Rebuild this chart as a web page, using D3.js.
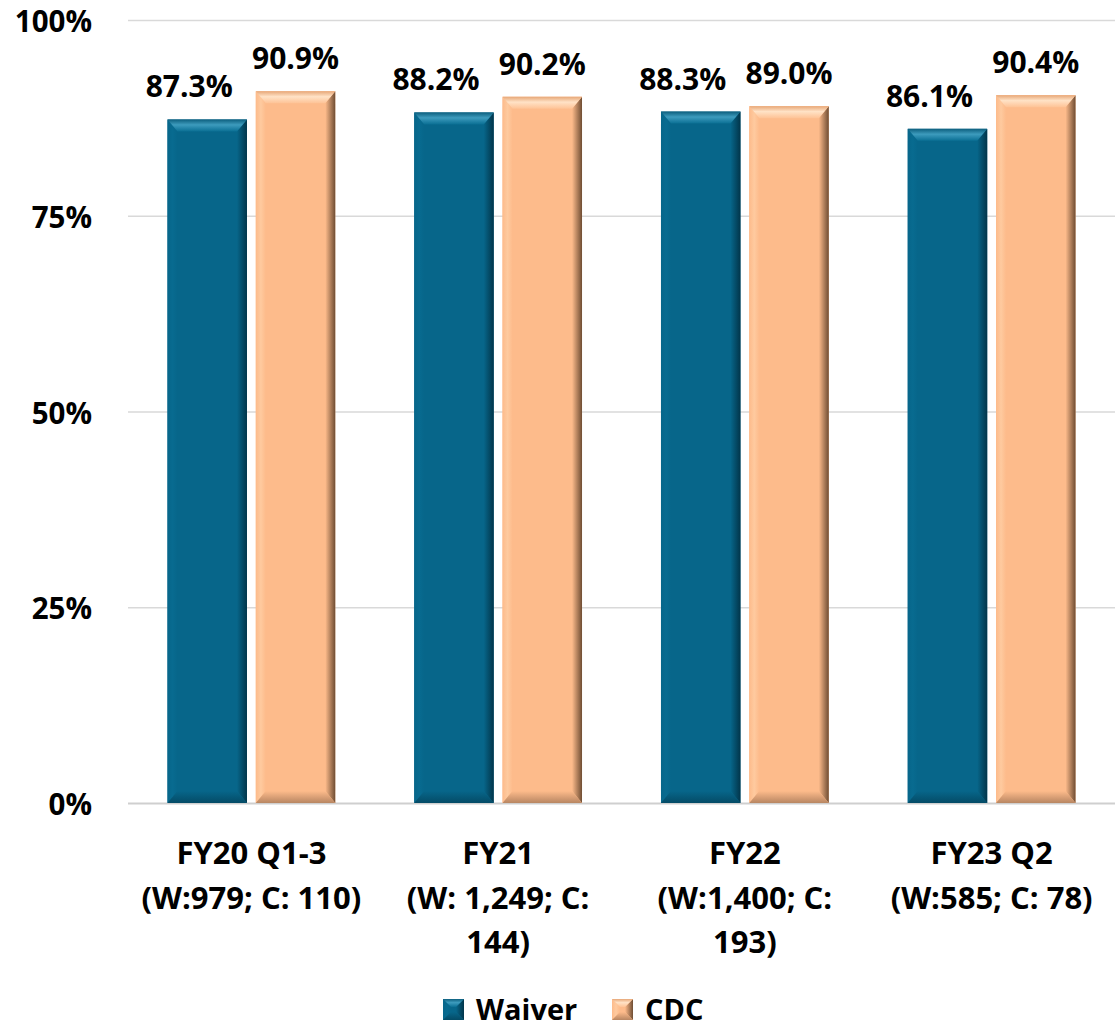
<!DOCTYPE html>
<html><head><meta charset="utf-8">
<script src="https://cdn.jsdelivr.net/npm/d3@7"></script>
<style>body{margin:0;background:#fff}svg{display:block}text{font-family:"Open Sans",Lato,sans-serif;font-weight:bold;fill:#000}</style>
</head><body>
<svg id="c" width="1115" height="1027"></svg>
<script>
const categories = [["FY20 Q1-3","(W:979; C: 110)"],["FY21","(W: 1,249; C:","144)"],["FY22","(W:1,400; C:","193)"],["FY23 Q2","(W:585; C: 78)"]];
const seriesNames = ["Waiver","CDC"];
const waiver = [87.3, 88.2, 88.3, 86.1];
const cdc = [90.9, 90.2, 89.0, 90.4];
const yTicks = [0,25,50,75,100];
const colors = {
  Waiver:{key:"w",base:"#07668a",top1:"#0d5f7e",top2:"#3d9bbd",top3:"#0a6f94",side:"#02354a",bot:"#044b66",left:"#086b90"},
  CDC:{key:"c",base:"#fdbb8b",top1:"#e7a777",top2:"#ffe2c6",top3:"#fec396",side:"#6f4d33",bot:"#b88662",left:"#feca9f"}
};

const svg = d3.select("#c");
const defs = svg.append("defs");
Object.values(colors).forEach(c=>{
  const gt = defs.append("linearGradient").attr("id","t"+c.key).attr("x1",0).attr("y1",0).attr("x2",0).attr("y2",1);
  gt.append("stop").attr("offset",0).attr("stop-color",c.top1);
  gt.append("stop").attr("offset",0.45).attr("stop-color",c.top2);
  gt.append("stop").attr("offset",1).attr("stop-color",c.top3);
  const gr = defs.append("linearGradient").attr("id","r"+c.key).attr("x1",0).attr("y1",0).attr("x2",1).attr("y2",0);
  gr.append("stop").attr("offset",0).attr("stop-color",c.base);
  gr.append("stop").attr("offset",1).attr("stop-color",c.side);
  const gb = defs.append("linearGradient").attr("id","b"+c.key).attr("x1",0).attr("y1",0).attr("x2",0).attr("y2",1);
  gb.append("stop").attr("offset",0).attr("stop-color",c.base);
  gb.append("stop").attr("offset",1).attr("stop-color",c.bot);
  const gl = defs.append("linearGradient").attr("id","l"+c.key).attr("x1",0).attr("y1",0).attr("x2",1).attr("y2",0);
  gl.append("stop").attr("offset",0).attr("stop-color",c.base);
  gl.append("stop").attr("offset",0.5).attr("stop-color",c.left);
  gl.append("stop").attr("offset",1).attr("stop-color",c.base);
});

const x0 = d3.scaleBand().domain(d3.range(4)).range([128,1115]).paddingInner(0.32).paddingOuter(0.16);
const x1 = d3.scaleBand().domain(seriesNames).range([0,x0.bandwidth()]).paddingInner(0.1);
const y = d3.scaleLinear().domain([0,100]).range([803,20]);

// grid
svg.append("g").selectAll("line").data(yTicks).join("line")
  .attr("x1",128).attr("x2",1115).attr("y1",d=>y(d)+0.5).attr("y2",d=>y(d)+0.5)
  .attr("stroke",d=>d===0?"#cfcfcf":"#d9d9d9").attr("stroke-width",d=>d===0?2:1.5);
svg.append("g").selectAll("text").data(yTicks).join("text")
  .attr("x",92).attr("y",d=>y(d)+12).attr("text-anchor","end").attr("font-size",29.5).text(d=>d+"%");

function bevelBar(g, bx, by, bw, bh, c, bt, bs) {
  bt = Math.min(bt, bh/2); bs = Math.min(bs, bw/2);
  const P = pts => pts.map(p=>p.join(",")).join(" ");
  g.append("rect").attr("x",bx).attr("y",by).attr("width",bw).attr("height",bh).attr("fill",c.base);
  g.append("polygon").attr("points",P([[bx,by],[bx+bs,by+bt],[bx+bs,by+bh-bt],[bx,by+bh]])).attr("fill",`url(#l${c.key})`);
  g.append("polygon").attr("points",P([[bx+bw,by],[bx+bw,by+bh],[bx+bw-bs,by+bh-bt],[bx+bw-bs,by+bt]])).attr("fill",`url(#r${c.key})`);
  g.append("polygon").attr("points",P([[bx,by+bh],[bx+bw,by+bh],[bx+bw-bs,by+bh-bt],[bx+bs,by+bh-bt]])).attr("fill",`url(#b${c.key})`);
  g.append("polygon").attr("points",P([[bx,by],[bx+bw,by],[bx+bw-bs,by+bt],[bx+bs,by+bt]])).attr("fill",`url(#t${c.key})`);
}

const data = [waiver, cdc];
const labelShift = [-18, 0];
const bars = svg.append("g");
d3.range(4).forEach(i=>{
  seriesNames.forEach((s,si)=>{
    const v = data[si][i];
    const bx = x0(i)+x1(s), bw = x1.bandwidth();
    bevelBar(bars.append("g"), bx, y(v), bw, y(0)-y(v), colors[s], 12, 10);
    bars.append("text").attr("x",bx+bw/2+labelShift[si]).attr("y",y(v)-22).attr("text-anchor","middle").attr("font-size",30).text(v.toFixed(1)+"%");
  });
});

// category labels
const cl = svg.append("g");
categories.forEach((lines,i)=>{
  const cx = x0(i)+x0.bandwidth()/2;
  const t = cl.append("text").attr("x",cx).attr("y",864).attr("text-anchor","middle").attr("font-size",31);
  lines.forEach((l,j)=>t.append("tspan").attr("x",cx).attr("dy",j?44.5:0).text(l));
});

// legend
const lg = svg.append("g");
const legX = [443, 612];
seriesNames.forEach((s,i)=>{
  const g = lg.append("g");
  bevelBar(g, legX[i], 999, 21, 21, colors[s], 8, 8);
  g.append("text").attr("x",legX[i]+33).attr("y",1020).attr("font-size",29).text(s);
});
</script>
</body></html>
